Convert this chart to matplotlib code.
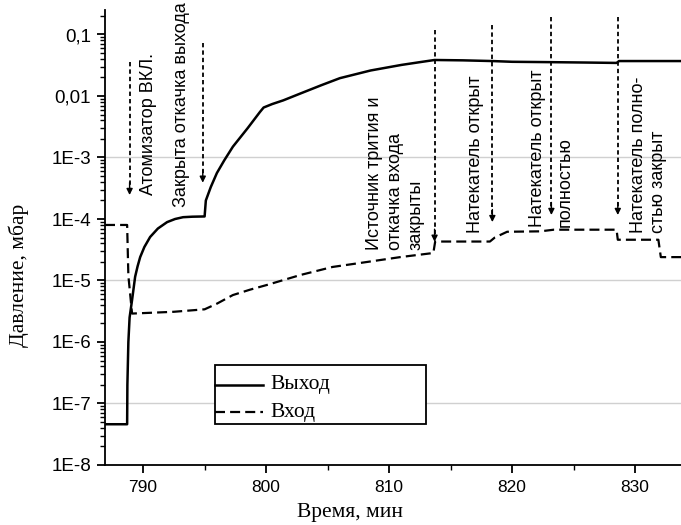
import matplotlib
matplotlib.use('Agg')
import matplotlib.pyplot as plt
from matplotlib import font_manager
from matplotlib.ticker import FixedLocator, LogLocator, NullFormatter, MultipleLocator
from matplotlib.patches import Rectangle

# ---------------- data ----------------
out_t = [786.9, 788.70, 788.72, 788.80, 788.90, 789.10, 789.35, 789.55, 789.76, 790.10,
         790.57, 791.20, 791.95, 792.60, 793.25, 794.00, 795.00, 795.10, 795.50, 796.00,
         796.60, 797.30, 798.50, 799.50, 799.80, 800.50, 801.40, 802.80, 804.50, 806.00,
         808.50, 811.00, 812.50, 813.70, 816.00, 818.40, 820.00, 823.20, 826.00, 828.50,
         828.70, 833.74]
out_p = [4.6e-8, 4.6e-8, 2e-7, 1e-6, 2.5e-6, 4.8e-6, 1.15e-5, 1.7e-5, 2.4e-5, 3.5e-5,
         5.1e-5, 7.0e-5, 8.9e-5, 1.0e-4, 1.07e-4, 1.09e-4, 1.1e-4, 2.0e-4, 3.3e-4, 5.6e-4,
         9.0e-4, 1.5e-3, 3.0e-3, 5.5e-3, 6.5e-3, 7.4e-3, 8.5e-3, 1.1e-2, 1.5e-2, 1.95e-2,
         2.6e-2, 3.2e-2, 3.55e-2, 3.85e-2, 3.8e-2, 3.7e-2, 3.6e-2, 3.55e-2, 3.5e-2, 3.45e-2,
         3.7e-2, 3.7e-2]

in_t = [786.9, 788.70, 788.80, 789.10, 790.00, 792.50, 795.00, 796.00, 797.30, 798.70,
        800.10, 802.80, 805.40, 808.20, 810.90, 813.60, 813.75, 818.20, 818.60, 819.60,
        822.30, 823.40, 828.50, 828.60, 831.90, 832.10, 833.74]
in_p = [8e-5, 8e-5, 1.2e-5, 2.9e-6, 2.95e-6, 3.1e-6, 3.4e-6, 4.2e-6, 5.8e-6, 7.1e-6,
        8.5e-6, 1.23e-5, 1.66e-5, 2.0e-5, 2.4e-5, 2.8e-5, 4.3e-5, 4.3e-5, 5.0e-5, 6.2e-5,
        6.3e-5, 6.7e-5, 6.7e-5, 4.6e-5, 4.6e-5, 2.4e-5, 2.4e-5]

series_labels = ['Выход', 'Вход']

x_ticks = [790, 800, 810, 820, 830]
y_ticks = [1e-8, 1e-7, 1e-6, 1e-5, 1e-4, 1e-3, 1e-2, 1e-1]
y_ticklabels = ['1E-8', '1E-7', '1E-6', '1E-5', '1E-4', '1E-3', '0,01', '0,1']
grid_levels = [1e-7, 1e-5, 1e-3]

# event arrows: time, top, bottom
event_t = [788.9, 794.85, 813.7, 818.4, 823.2, 828.6]
event_top = [10**-1.447, 10**-1.14, 10**-0.927, 10**-0.845, 10**-0.715, 10**-0.715]
event_bot = [10**-3.61, 10**-3.41, 10**-4.37, 10**-4.05, 10**-3.935, 10**-3.935]

event_text = ['Атомизатор ВКЛ.',
              'Закрыта откачка выхода',
              'Источник трития и\nоткачка входа\nзакрыты',
              'Натекатель открыт',
              'Натекатель открыт\nполностью',
              'Натекатель полно-\nстью закрыт']
text_t = [790.4, 793.1, 810.5, 817.0, 823.2, 831.1]
text_bot = [10**-3.61, 10**-3.805, 10**-4.50, 10**-4.23, 10**-4.13, 10**-4.23]
text_spacing = [1.3, 1.3, 1.3, 1.3, 1.85, 1.3]

# ---------------- fonts ----------------
names = {f.name for f in font_manager.fontManager.ttflist}
narrow = 'Liberation Sans Narrow' if 'Liberation Sans Narrow' in names else 'Liberation Sans'
serif = 'Liberation Serif'

# ---------------- figure ----------------
W, H = 681, 525
fig = plt.figure(figsize=(W / 100, H / 100), dpi=100)
ax = fig.add_axes([105 / W, 60 / H, (W - 105) / W, 455 / H])
ax.set_yscale('log')
ax.set_xlim(786.9, 833.74)
ax.set_ylim(1e-8, 10 ** (-8 + 455 / 61.5))

for g in grid_levels:
    ax.axhline(g, color='#d0d0d0', lw=1.0, zorder=0)

ax.plot(out_t, out_p, color='black', lw=1.8, solid_joinstyle='round', zorder=3)
ax.plot(in_t, in_p, color='black', lw=1.6, dashes=(4.5, 2.3), zorder=3)

# arrows
for t, yt, yb in zip(event_t, event_top, event_bot):
    ax.plot([t, t], [yt, yb * 1.25], color='black', lw=1.3, dashes=(2.4, 1.7), zorder=4)
    ax.annotate('', xy=(t, yb), xytext=(t, yb * 1.6),
                arrowprops=dict(arrowstyle='-|>', color='black', lw=1.0,
                                mutation_scale=9, shrinkA=0, shrinkB=0), zorder=4)

for s, t, yb, ls in zip(event_text, text_t, text_bot, text_spacing):
    ax.text(t, yb, s, rotation=90, ha='center', va='bottom', multialignment='left',
            fontsize=13, family=[narrow, 'DejaVu Sans'], linespacing=ls, zorder=5)

# spines and ticks
for side in ('top', 'right'):
    ax.spines[side].set_visible(False)
for side in ('left', 'bottom'):
    ax.spines[side].set_linewidth(1.3)

ax.xaxis.set_major_locator(FixedLocator(x_ticks))
ax.xaxis.set_minor_locator(MultipleLocator(5))
ax.yaxis.set_major_locator(FixedLocator(y_ticks))
ax.set_yticklabels(y_ticklabels)
ax.yaxis.set_minor_locator(LogLocator(base=10, subs=range(2, 10), numticks=20))
ax.yaxis.set_minor_formatter(NullFormatter())
ax.tick_params(axis='both', which='major', direction='out', length=6, width=1.3, color='black')
ax.tick_params(axis='both', which='minor', direction='out', length=3.5, width=1.0)
ax.tick_params(axis='y', which='major', pad=4)
ax.tick_params(axis='x', which='major', pad=5)
for lab in ax.get_xticklabels():
    lab.set_family([narrow, 'DejaVu Sans'])
    lab.set_fontsize(12.5)
for lab in ax.get_yticklabels():
    lab.set_family([narrow, 'DejaVu Sans'])
    lab.set_fontsize(13.5)

# axis labels
fig.text(19 / W, 1 - 275 / H, 'Давление, мбар', rotation=90, ha='center', va='center',
         fontsize=15.5, family=[serif, 'DejaVu Serif'])
fig.text(350 / W, 1 - 513 / H, 'Время, мин', ha='center', va='center',
         fontsize=15.5, family=[serif, 'DejaVu Serif'])

# legend drawn as a framed box
ax0 = 105
def fx(px):
    return (px - ax0) / (W - ax0)
def fy(py):
    return (465 - py) / 455
ax.add_patch(Rectangle((fx(215), fy(424)), fx(426) - fx(215), fy(365) - fy(424),
                       transform=ax.transAxes, fill=True, facecolor='white',
                       edgecolor='black', lw=1.3, zorder=6))
ax.plot([fx(215), fx(263)], [fy(385), fy(385)], transform=ax.transAxes,
        color='black', lw=1.8, zorder=7)
ax.plot([fx(215), fx(263)], [fy(412), fy(412)], transform=ax.transAxes,
        color='black', lw=1.6, dashes=(4.5, 2.3), zorder=7)
ax.text(fx(270), fy(385), series_labels[0], transform=ax.transAxes, va='center', ha='left',
        fontsize=15.5, family=[serif, 'DejaVu Serif'], zorder=7)
ax.text(fx(270), fy(412), series_labels[1], transform=ax.transAxes, va='center', ha='left',
        fontsize=15.5, family=[serif, 'DejaVu Serif'], zorder=7)

fig.savefig('out.png', dpi=100, facecolor='white')
